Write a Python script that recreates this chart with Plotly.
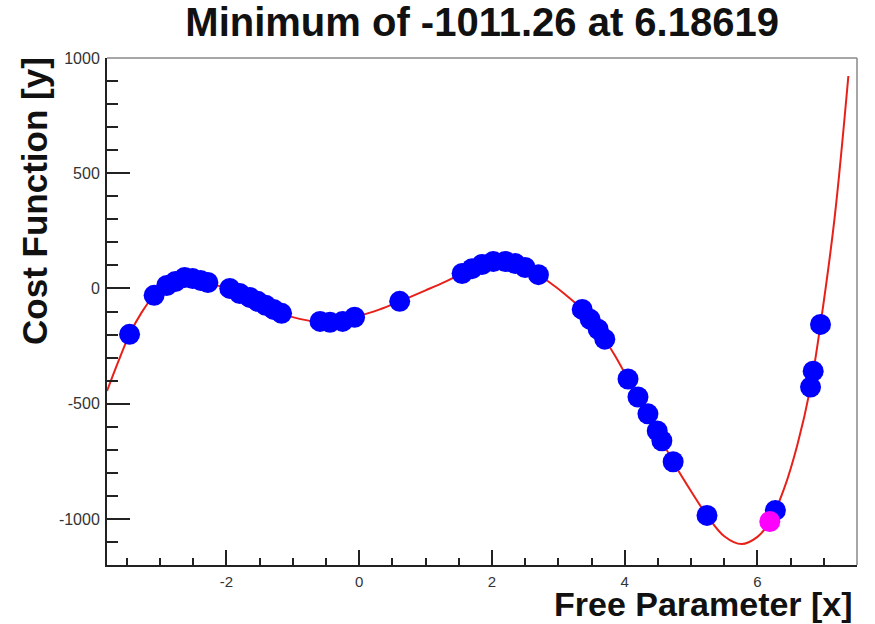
import plotly.graph_objects as go

# Red cost-function curve
curve_x = [-3.8, -3.62, -3.46, -3.28, -3.09, -2.9, -2.75, -2.6, -2.45, -2.28, -2.1, -1.95,
           -1.8, -1.5, -1.17, -0.9, -0.6, -0.3, -0.07, 0.3, 0.61, 1.0, 1.3, 1.55, 1.85,
           2.1, 2.35, 2.6, 2.85, 3.1, 3.36, 3.6, 3.85, 4.05, 4.35, 4.73, 5.0, 5.24, 5.5,
           5.76, 6.0, 6.19, 6.4, 6.6, 6.8, 6.95, 7.16, 7.37]
curve_y = [-445, -310, -199, -105, -30, 13, 36, 48, 44, 26, 10, 0,
           -22, -60, -108, -132, -145, -142, -125, -92, -56, -8, 30, 65, 104,
           118, 108, 78, 30, -25, -91, -177, -290, -393, -544, -752, -880, -985, -1075,
           -1109, -1078, -1011, -870, -680, -428, -156, 300, 922]

# Blue sampled points
pts_x = [-3.46, -3.09, -2.90, -2.77, -2.63, -2.51, -2.39, -2.28, -1.95, -1.80, -1.65,
         -1.53, -1.41, -1.29, -1.17, -0.59, -0.44, -0.25, -0.07, 0.61, 1.55, 1.70,
         1.85, 2.02, 2.20, 2.35, 2.50, 2.70, 3.36, 3.48, 3.60, 3.70, 4.05, 4.20, 4.35,
         4.49, 4.56, 4.73, 5.24, 6.27, 6.80, 6.84, 6.95]
pts_y = [-199, -30, 13, 30, 48, 43, 35, 26, 0, -22, -39,
         -56, -73, -91, -108, -143, -147, -143, -125, -56, 65, 86,
         104, 117, 117, 108, 91, 60, -91, -134, -177, -220, -393, -471, -544,
         -618, -661, -752, -985, -963, -428, -359, -156]

# Minimum found
min_x = [6.18619]
min_y = [-1011.26]

title_text = "Minimum of -1011.26 at 6.18619"
x_title = "Free Parameter [x]"
y_title = "Cost Function [y]"

x_tickvals = [-2, 0, 2, 4, 6]
x_ticktext = ["-2", "0", "2", "4", "6"]
y_tickvals = [-1000, -500, 0, 500, 1000]
y_ticktext = ["-1000", "-500", "0", "500", "1000"]

FONT = "Liberation Sans, Arial, Helvetica, sans-serif"

fig = go.Figure()
fig.add_trace(go.Scatter(x=curve_x, y=curve_y, mode="lines",
                         line=dict(color="#e8201a", width=2, shape="spline", smoothing=1.0),
                         hoverinfo="skip", showlegend=False))
fig.add_trace(go.Scatter(x=pts_x, y=pts_y, mode="markers",
                         marker=dict(color="#0000ff", size=21, line=dict(width=0)),
                         showlegend=False))
fig.add_trace(go.Scatter(x=min_x, y=min_y, mode="markers",
                         marker=dict(color="#ff00ff", size=21, line=dict(width=0)),
                         showlegend=False))

fig.update_layout(
    width=875, height=624,
    margin=dict(l=107, r=18, t=58, b=59),
    paper_bgcolor="white", plot_bgcolor="white",
    font=dict(family=FONT, color="#222"),
    title=dict(text="<b>" + title_text + "</b>", x=0.551, xanchor="center",
               y=1 - 22 / 624, yanchor="middle", yref="container",
               font=dict(size=40, color="#111", family=FONT)),
    xaxis=dict(range=[-3.8, 7.5], showgrid=False, zeroline=False,
               showline=True, linecolor="#222", linewidth=2, mirror=False,
               ticks="inside", ticklen=15, tickwidth=2, tickcolor="#222",
               tickvals=x_tickvals, ticktext=x_ticktext,
               tickfont=dict(size=15, color="#333"), ticklabelstandoff=2,
               minor=dict(dtick=0.5, tick0=0, ticks="inside", ticklen=7,
                          tickwidth=2, tickcolor="#222")),
    yaxis=dict(range=[-1200, 1000], showgrid=False, zeroline=False,
               showline=True, linecolor="#222", linewidth=2, mirror=False,
               ticks="inside", ticklen=23, tickwidth=2, tickcolor="#222",
               tickvals=y_tickvals, ticktext=y_ticktext,
               tickfont=dict(size=16, color="#333"), ticklabelstandoff=2,
               minor=dict(dtick=100, tick0=0, ticks="inside", ticklen=11,
                          tickwidth=2, tickcolor="#222")),
    annotations=[
        dict(text="<b>" + y_title + "</b>", textangle=-90, showarrow=False,
             xref="paper", yref="paper", x=-0.096, y=1.006,
             xanchor="center", yanchor="top",
             font=dict(size=35, color="#111", family=FONT)),
        dict(text="<b>" + x_title + "</b>", showarrow=False,
             xref="paper", yref="paper", x=0.997, y=-0.076,
             xanchor="right", yanchor="middle",
             font=dict(size=34, color="#111", family=FONT)),
    ],
    shapes=[
        dict(type="line", xref="x domain", yref="y domain", x0=0, x1=1, y0=1, y1=1,
             line=dict(color="#888", width=1.5)),
        dict(type="line", xref="x domain", yref="y domain", x0=1, x1=1, y0=0, y1=1,
             line=dict(color="#888", width=1.5)),
    ],
)

fig.write_html("out.html", config={"displayModeBar": False},
               post_script="document.body.style.margin='0';document.body.style.overflow='hidden';")
